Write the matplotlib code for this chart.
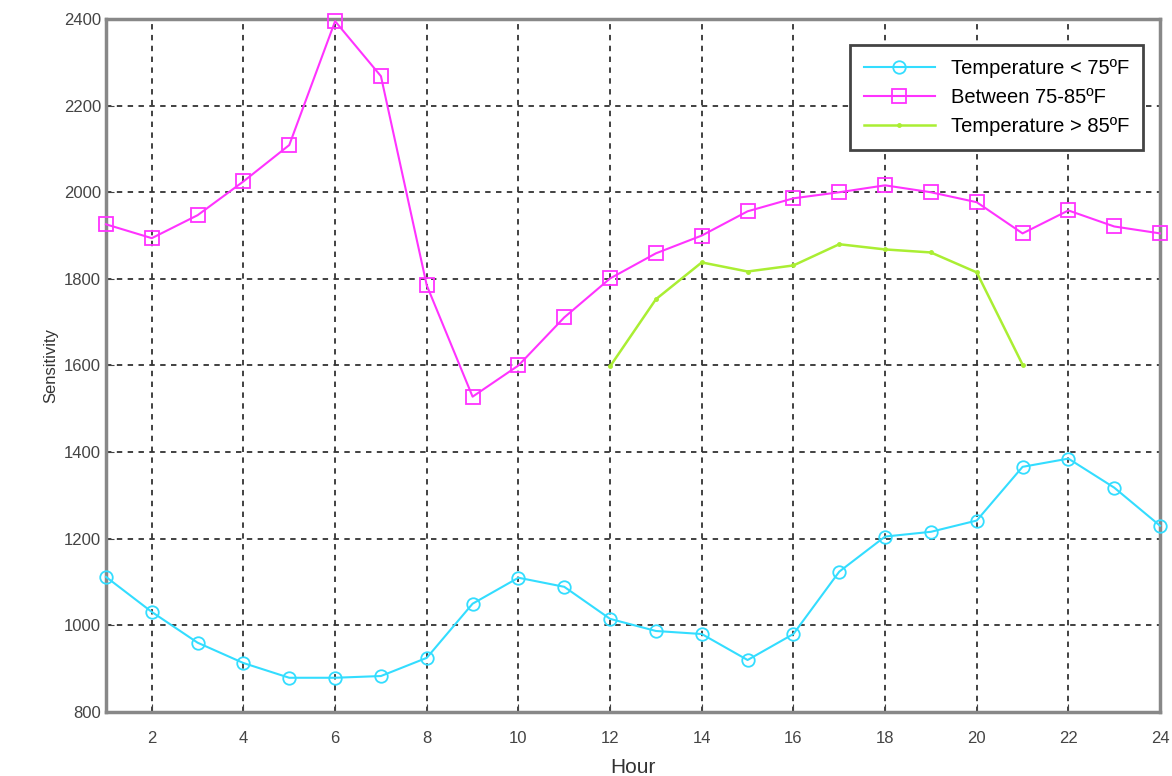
import numpy as np
from matplotlib import pyplot as plt

plt.rcParams["font.family"] = ["Liberation Sans", "DejaVu Sans"]

hours = np.arange(1, 25)
below_75 = [1112, 1031, 960, 913, 879, 879, 883, 925, 1050, 1110, 1089, 1015,
            987, 980, 920, 980, 1124, 1205, 1216, 1242, 1366, 1385, 1318, 1230]
between_75_85 = [1926, 1894, 1947, 2025, 2109, 2395, 2268, 1785, 1528, 1600, 1711, 1801,
                 1859, 1900, 1956, 1986, 2000, 2016, 2000, 1977, 1905, 1958, 1921, 1905]
hours_hot = np.arange(12, 22)
above_85 = [1598, 1753, 1838, 1817, 1831, 1880, 1868, 1861, 1815, 1602]

fig = plt.figure(figsize=(11.72, 7.76), dpi=100)
ax = fig.add_axes([0.0904, 0.0825, 0.8994, 0.893])

ax.plot(hours, below_75, color='#33ddff', marker='o', markersize=9,
        markerfacecolor='none', markeredgewidth=1.3, linewidth=1.5,
        label='Temperature < 75ºF', clip_on=False, zorder=3)
ax.plot(hours, between_75_85, color='#ff33ff', marker='s', markersize=10,
        markerfacecolor='none', markeredgewidth=1.3, linewidth=1.5,
        label='Between 75-85ºF', clip_on=False, zorder=3)
ax.plot(hours_hot, above_85, color='#aaee33', marker='.', markersize=5,
        linewidth=1.8, label='Temperature > 85ºF', zorder=3)

ax.set_xlim(1, 24)
ax.set_ylim(800, 2400)
ax.set_xticks(np.arange(2, 25, 2))
ax.set_yticks(np.arange(800, 2401, 200))
ax.grid(True, color='#333333', linestyle=(0, (3, 3)), linewidth=1.3)
ax.tick_params(direction='in', length=6, labelsize=12, colors='#444444')
ax.tick_params(axis='x', pad=14)
for s in ax.spines.values():
    s.set_color('#888888')
    s.set_linewidth(2.5)

ax.set_xlabel('Hour', fontsize=15, color='#333333', labelpad=8)
ax.set_ylabel('Sensitivity', fontsize=12, color='#333333')

leg = ax.legend(loc='upper right', fontsize=14.5, fancybox=False, framealpha=1,
                edgecolor='#444444', borderpad=0.7, handlelength=3.5,
                borderaxespad=0, bbox_to_anchor=(0.984, 0.9625))
leg.get_frame().set_linewidth(2)

fig.savefig('out.png', dpi=100)
